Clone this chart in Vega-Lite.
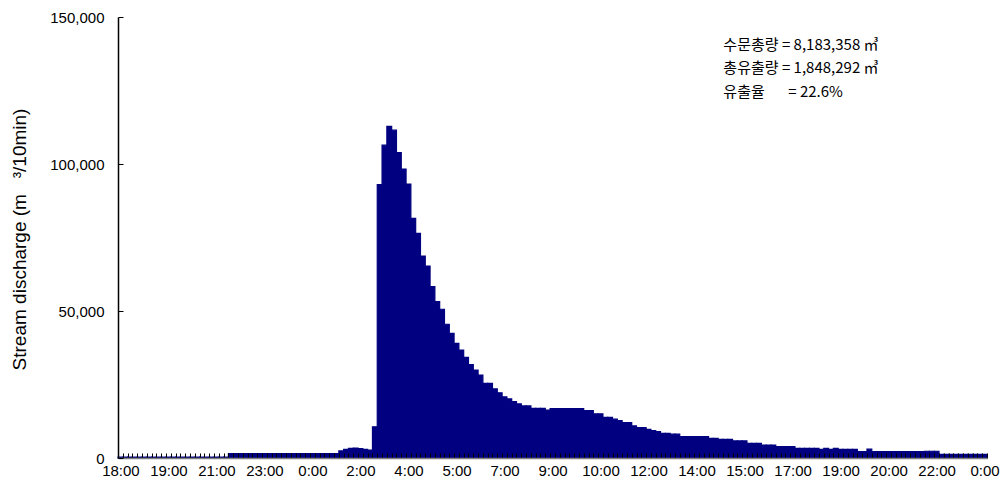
{
  "$schema": "https://vega.github.io/schema/vega-lite/v6.json",
  "width": 869,
  "height": 441,
  "autosize": "none",
  "padding": {"left": 118, "top": 17, "right": 16, "bottom": 38},
  "background": "white",
  "config": {"view": {"stroke": null}, "font": "Liberation Sans"},
  "layer": [
    {
      "data": {"values": [
        {"i":0,"q":300},{"i":1,"q":300},{"i":2,"q":300},{"i":3,"q":300},{"i":4,"q":300},{"i":5,"q":300},{"i":6,"q":300},{"i":7,"q":300},{"i":8,"q":300},{"i":9,"q":300},
        {"i":10,"q":300},{"i":11,"q":300},{"i":12,"q":300},{"i":13,"q":300},{"i":14,"q":300},{"i":15,"q":300},{"i":16,"q":300},{"i":17,"q":300},{"i":18,"q":300},{"i":19,"q":300},
        {"i":20,"q":300},{"i":21,"q":300},{"i":22,"q":300},{"i":23,"q":1500},{"i":24,"q":1500},{"i":25,"q":1500},{"i":26,"q":1500},{"i":27,"q":1500},{"i":28,"q":1500},{"i":29,"q":1500},
        {"i":30,"q":1500},{"i":31,"q":1500},{"i":32,"q":1500},{"i":33,"q":1500},{"i":34,"q":1500},{"i":35,"q":1500},{"i":36,"q":1500},{"i":37,"q":1500},{"i":38,"q":1500},{"i":39,"q":1500},
        {"i":40,"q":1500},{"i":41,"q":1500},{"i":42,"q":1500},{"i":43,"q":1500},{"i":44,"q":1500},{"i":45,"q":1500},{"i":46,"q":2400},{"i":47,"q":2900},{"i":48,"q":3300},{"i":49,"q":3400},
        {"i":50,"q":3200},{"i":51,"q":2900},{"i":52,"q":2700},{"i":53,"q":10600},{"i":54,"q":93000},{"i":55,"q":106400},{"i":56,"q":112800},{"i":57,"q":111500},{"i":58,"q":103900},{"i":59,"q":98300},
        {"i":60,"q":93200},{"i":61,"q":81500},{"i":62,"q":76400},{"i":63,"q":68700},{"i":64,"q":65300},{"i":65,"q":58300},{"i":66,"q":53200},{"i":67,"q":50600},{"i":68,"q":45500},{"i":69,"q":42400},
        {"i":70,"q":39000},{"i":71,"q":36700},{"i":72,"q":34200},{"i":73,"q":31800},{"i":74,"q":29900},{"i":75,"q":28200},{"i":76,"q":25400},{"i":77,"q":25400},{"i":78,"q":23500},{"i":79,"q":22200},
        {"i":80,"q":20800},{"i":81,"q":20100},{"i":82,"q":19200},{"i":83,"q":18400},{"i":84,"q":17700},{"i":85,"q":17700},{"i":86,"q":16900},{"i":87,"q":16900},{"i":88,"q":16900},{"i":89,"q":16300},
        {"i":90,"q":16800},{"i":91,"q":16800},{"i":92,"q":16800},{"i":93,"q":16800},{"i":94,"q":16800},{"i":95,"q":16800},{"i":96,"q":16800},{"i":97,"q":16100},{"i":98,"q":16100},{"i":99,"q":15000},
        {"i":100,"q":15000},{"i":101,"q":13800},{"i":102,"q":13800},{"i":103,"q":13200},{"i":104,"q":12700},{"i":105,"q":12000},{"i":106,"q":12000},{"i":107,"q":10900},{"i":108,"q":10300},{"i":109,"q":10300},
        {"i":110,"q":9750},{"i":111,"q":9300},{"i":112,"q":8950},{"i":113,"q":8400},{"i":114,"q":8400},{"i":115,"q":8100},{"i":116,"q":8100},{"i":117,"q":7250},{"i":118,"q":7250},{"i":119,"q":7250},
        {"i":120,"q":7250},{"i":121,"q":7250},{"i":122,"q":7250},{"i":123,"q":6700},{"i":124,"q":6700},{"i":125,"q":6350},{"i":126,"q":6350},{"i":127,"q":6350},{"i":128,"q":5800},{"i":129,"q":5800},
        {"i":130,"q":5800},{"i":131,"q":5000},{"i":132,"q":5000},{"i":133,"q":5000},{"i":134,"q":4400},{"i":135,"q":4400},{"i":136,"q":4400},{"i":137,"q":3850},{"i":138,"q":3850},{"i":139,"q":3850},
        {"i":140,"q":3850},{"i":141,"q":3300},{"i":142,"q":3300},{"i":143,"q":3300},{"i":144,"q":3300},{"i":145,"q":3300},{"i":146,"q":2950},{"i":147,"q":3300},{"i":148,"q":2950},{"i":149,"q":3300},
        {"i":150,"q":2950},{"i":151,"q":2950},{"i":152,"q":2950},{"i":153,"q":2950},{"i":154,"q":2150},{"i":155,"q":2150},{"i":156,"q":3000},{"i":157,"q":2150},{"i":158,"q":2150},{"i":159,"q":2150},
        {"i":160,"q":2150},{"i":161,"q":2150},{"i":162,"q":2150},{"i":163,"q":2150},{"i":164,"q":2150},{"i":165,"q":2150},{"i":166,"q":2150},{"i":167,"q":2150},{"i":168,"q":2300},{"i":169,"q":2300},
        {"i":170,"q":2300},{"i":171,"q":1200},{"i":172,"q":1200},{"i":173,"q":1200},{"i":174,"q":1200},{"i":175,"q":1200},{"i":176,"q":1200},{"i":177,"q":1200},{"i":178,"q":1200},{"i":179,"q":1200},
        {"i":180,"q":1200}
      ]},
      "mark": {"type": "bar", "fill": "#000080", "stroke": "#000080", "strokeWidth": 1.2},
      "encoding": {
        "x": {
          "field": "i", "type": "ordinal",
          "scale": {"paddingInner": 0, "paddingOuter": 0},
          "axis": {
            "title": null,
            "labelExpr": "datum.value % 10 == 0 ? ['18:00','19:00','21:00','23:00','0:00','2:00','4:00','5:00','7:00','9:00','10:00','12:00','14:00','15:00','17:00','19:00','20:00','22:00','0:00'][datum.value / 10] : ''",
            "labelAngle": 0,
            "labelOverlap": false,
            "labelFont": "Liberation Sans",
            "labelFontSize": 15,
            "labelColor": "black",
            "labelPadding": 10,
            "tickBand": "extent",
            "tickSize": -5,
            "tickColor": "black",
            "tickWidth": 1,
            "domainColor": "#808080",
            "domainWidth": 1.5,
            "zindex": 1
          }
        },
        "y": {
          "field": "q", "type": "quantitative",
          "scale": {"domain": [0, 150000], "nice": false},
          "axis": {
            "values": [0, 50000, 100000, 150000],
            "format": ",d",
            "title": "Stream discharge (m\u00a0\u00a0\u00a0³/10min)",
            "titleFont": "Liberation Sans",
            "titleFontSize": 19,
            "titleFontWeight": "normal",
            "titleColor": "black",
            "titleX": -99,
            "titleY": 222,
            "titleAngle": 270,
            "titleAlign": "center",
            "titleBaseline": "middle",
            "labelFont": "Liberation Sans",
            "labelFontSize": 15,
            "labelColor": "black",
            "labelPadding": 19,
            "tickSize": -5,
            "tickColor": "black",
            "domainColor": "black",
            "domainWidth": 1.5,
            "grid": false,
            "zindex": 1
          }
        }
      }
    },
    {
      "data": {"values": [
        {"i": 126, "q": 140400, "text": "수문총량 = 8,183,358 ㎥"},
        {"i": 126, "q": 132600, "text": "총유출량 = 1,848,292 ㎥"},
        {"i": 126, "q": 124400, "text": "유출율\u00a0\u00a0\u00a0\u00a0\u00a0\u00a0\u00a0= 22.6%"}
      ]},
      "mark": {"type": "text", "align": "left", "baseline": "middle", "dx": -2, "font": "Noto Sans CJK KR", "fontSize": 15, "color": "black"},
      "encoding": {
        "x": {"field": "i", "type": "ordinal"},
        "y": {"field": "q", "type": "quantitative"},
        "text": {"field": "text"}
      }
    }
  ]
}
